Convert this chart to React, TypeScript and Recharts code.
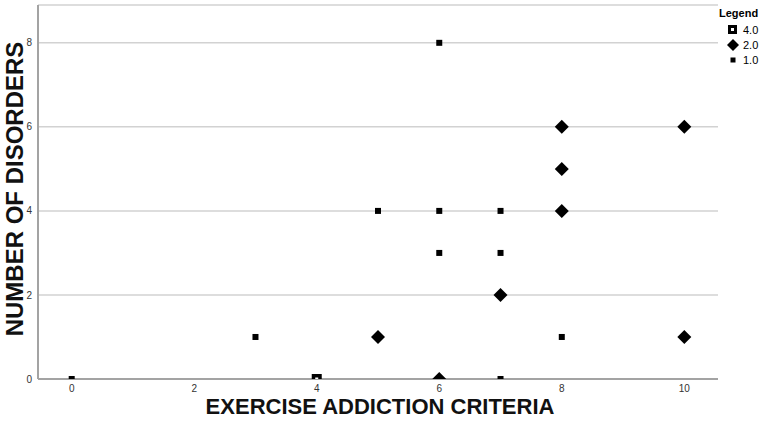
import React from "react";
import { ScatterChart, Scatter, XAxis, YAxis, CartesianGrid } from "recharts";

// values
const legendLabels = ["4.0", "2.0", "1.0"];

const x4 = [4];
const y4 = [0];

const x2 = [5, 6, 7, 8, 8, 8, 10, 10];
const y2 = [1, 0, 2, 6, 5, 4, 6, 1];

const x1 = [0, 3, 5, 6, 6, 6, 7, 7, 7, 8];
const y1 = [0, 1, 4, 8, 4, 3, 4, 3, 0, 1];

const xTicks = [0, 2, 4, 6, 8, 10];
const yTicks = [0, 2, 4, 6, 8];

const toPoints = (xs: number[], ys: number[]) => xs.map((x, i) => ({ x, y: ys[i] }));

const FONT = "Arial, 'Liberation Sans', sans-serif";

const HollowSquare = ({ cx, cy }: any) => (
  <g>
    <rect x={cx - 5} y={cy - 5} width={10} height={10} fill="#000" />
    <rect x={cx - 1.5} y={cy - 1.5} width={3} height={3} fill="#fff" />
  </g>
);

const Diamond = ({ cx, cy }: any) => (
  <polygon
    points={`${cx},${cy - 7} ${cx + 7},${cy} ${cx},${cy + 7} ${cx - 7},${cy}`}
    fill="#000"
  />
);

const SmallSquare = ({ cx, cy }: any) => (
  <rect x={cx - 3} y={cy - 3} width={6} height={6} fill="#000" />
);

const LegendBox = () => {
  const markers = [
    <svg width={12} height={12} key="a"><rect x={1} y={1} width={9} height={9} fill="#000" /><rect x={4} y={4} width={3} height={3} fill="#fff" /></svg>,
    <svg width={12} height={12} key="b"><polygon points="6,0 12,6 6,12 0,6" fill="#000" /></svg>,
    <svg width={12} height={12} key="c"><rect x={3.5} y={3.5} width={5} height={5} fill="#000" /></svg>,
  ];
  return (
    <div style={{ position: "absolute", left: 719, top: 7, fontFamily: FONT, color: "#000" }}>
      <div style={{ fontSize: 11, fontWeight: "bold", lineHeight: "13px", marginBottom: 2 }}>Legend</div>
      {legendLabels.map((l, i) => (
        <div key={l} style={{ display: "flex", alignItems: "center", height: 15, fontSize: 11 }}>
          <span style={{ width: 20, display: "flex", justifyContent: "flex-end", marginRight: 4 }}>{markers[i]}</span>
          <span>{l}</span>
        </div>
      ))}
    </div>
  );
};

export default function App() {
  return (
    <div style={{ position: "relative", width: 765, height: 421, background: "#fff" }}>
      <style>{`body{margin:0}`}</style>
      <ScatterChart width={765} height={421} margin={{ top: 5, right: 47, bottom: 0, left: 0 }}>
        <CartesianGrid horizontal vertical={false} stroke="#d2d2d2" strokeWidth={1.5} />
        <XAxis
          type="number"
          dataKey="x"
          domain={[-0.55, 10.55]}
          ticks={xTicks}
          allowDataOverflow
          height={42}
          tickLine={false}
          tickSize={0}
          tickMargin={6}
          axisLine={{ stroke: "#a3a3a3", strokeWidth: 2 }}
          tick={{ fontSize: 10, fill: "#333", fontFamily: FONT }}
          label={{
            content: () => (
              <text x={380} y={414} textAnchor="middle" fontSize={22} fontWeight="bold" fontFamily={FONT} fill="#111">
                EXERCISE ADDICTION CRITERIA
              </text>
            ),
          }}
        />
        <YAxis
          type="number"
          dataKey="y"
          domain={[0, 8.9]}
          ticks={yTicks}
          allowDataOverflow
          width={38}
          tickLine={false}
          tickSize={0}
          tickMargin={6}
          axisLine={{ stroke: "#a3a3a3", strokeWidth: 2 }}
          tick={{ fontSize: 10, fill: "#333", fontFamily: FONT }}
          label={{
            content: () => (
              <text x={23} y={189} transform="rotate(-90 23 189)" textAnchor="middle" fontSize={24} fontWeight="bold" fontFamily={FONT} fill="#111">
                NUMBER OF DISORDERS
              </text>
            ),
          }}
        />
        <Scatter name="1.0" data={toPoints(x1, y1)} shape={<SmallSquare />} isAnimationActive={false} />
        <Scatter name="2.0" data={toPoints(x2, y2)} shape={<Diamond />} isAnimationActive={false} />
        <Scatter name="4.0" data={toPoints(x4, y4)} shape={<HollowSquare />} isAnimationActive={false} />
      </ScatterChart>
      <LegendBox />
    </div>
  );
}
